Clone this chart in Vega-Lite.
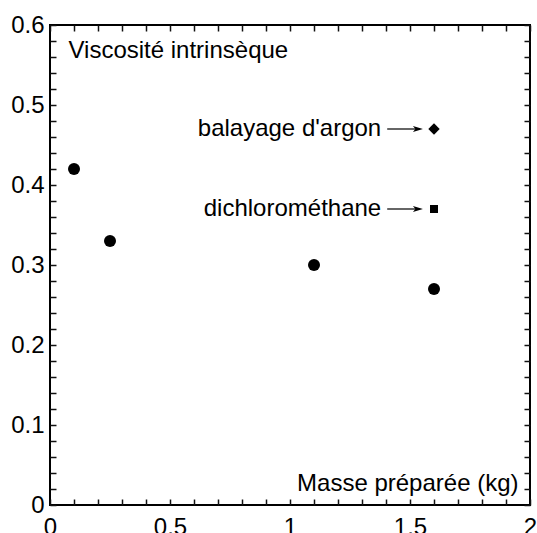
{
  "$schema": "https://vega.github.io/schema/vega-lite/v6.json",
  "width": 480,
  "height": 480,
  "autosize": {"type": "none"},
  "padding": {"left": 50, "top": 25, "right": 7, "bottom": 28},
  "config": {
    "view": {"stroke": "black", "strokeWidth": 2},
    "axis": {
      "domain": false, "grid": false,
      "labelFont": "Liberation Sans", "titleFont": "Liberation Sans",
      "labelFontSize": 24, "titleFontSize": 24, "labelColor": "black", "titleColor": "black",
      "titleFontWeight": "normal", "labelFlush": false, "labelOverlap": false, "labelBound": false
    },
    "text": {"font": "Liberation Sans"}
  },
  "datasets": {
    "cercles": [
      {"masse": 0.1, "visc": 0.42},
      {"masse": 0.25, "visc": 0.33},
      {"masse": 1.1, "visc": 0.30},
      {"masse": 1.6, "visc": 0.27}
    ],
    "argon": [{"masse": 1.6, "visc": 0.47}],
    "dichloro": [{"masse": 1.6, "visc": 0.37}],
    "notes": [
      {"note": "balayage d'argon", "visc": 0.47, "texte": 1.38, "debut": 1.405, "fin": 1.53, "pointe": 1.533},
      {"note": "dichlorométhane", "visc": 0.37, "texte": 1.38, "debut": 1.405, "fin": 1.53, "pointe": 1.533}
    ]
  },
  "layer": [
    {
      "layer": [
        {
          "data": {"name": "cercles"},
          "mark": {"type": "point", "shape": "circle", "filled": true, "size": 144, "color": "black", "opacity": 1},
          "encoding": {
            "x": {"field": "masse", "type": "quantitative", "scale": {"domain": [0, 2], "nice": false, "zero": false},
              "axis": {"orient": "bottom", "values": [0, 0.1, 0.2, 0.3, 0.4, 0.5, 0.6, 0.7, 0.8, 0.9, 1, 1.1, 1.2, 1.3, 1.4, 1.5, 1.6, 1.7, 1.8, 1.9, 2],
                "labelExpr": "abs(datum.value * 2 - round(datum.value * 2)) < 0.001 ? format(datum.value, '~f') : ''",
                "tickColor": "#111111", "tickWidth": 1.5, "tickSize": -6, "labelPadding": 16,
                "title": "Masse préparée (kg)", "titleAngle": 0, "titleX": 468, "titleY": -15, "titleAlign": "right", "titleBaseline": "alphabetic"}},
            "y": {"field": "visc", "type": "quantitative", "scale": {"domain": [0, 0.6], "nice": false, "zero": false},
              "axis": {"orient": "left", "values": [0, 0.02, 0.04, 0.06, 0.08, 0.1, 0.12, 0.14, 0.16, 0.18, 0.2, 0.22, 0.24, 0.26, 0.28, 0.3, 0.32, 0.34, 0.36, 0.38, 0.4, 0.42, 0.44, 0.46, 0.48, 0.5, 0.52, 0.54, 0.56, 0.58, 0.6],
                "labelExpr": "abs(datum.value * 10 - round(datum.value * 10)) < 0.001 ? format(datum.value, '~f') : ''",
                "tickColor": "#111111", "tickWidth": 1.5, "tickSize": -6, "labelPadding": 12,
                "title": "Viscosité intrinsèque", "titleAngle": 0, "titleX": 18, "titleY": 32, "titleAlign": "left", "titleBaseline": "alphabetic"}}
          }
        },
        {
          "data": {"name": "argon"},
          "mark": {"type": "point", "shape": "diamond", "filled": true, "size": 130, "color": "black", "opacity": 1},
          "encoding": {
            "x": {"field": "masse", "type": "quantitative", "scale": {"domain": [0, 2], "nice": false, "zero": false},
              "axis": {"orient": "bottom", "values": [0, 0.1, 0.2, 0.3, 0.4, 0.5, 0.6, 0.7, 0.8, 0.9, 1, 1.1, 1.2, 1.3, 1.4, 1.5, 1.6, 1.7, 1.8, 1.9, 2],
                "labelExpr": "abs(datum.value * 2 - round(datum.value * 2)) < 0.001 ? format(datum.value, '~f') : ''",
                "tickColor": "#111111", "tickWidth": 1.5, "tickSize": -6, "labelPadding": 16,
                "title": "Masse préparée (kg)", "titleAngle": 0, "titleX": 468, "titleY": -15, "titleAlign": "right", "titleBaseline": "alphabetic"}},
            "y": {"field": "visc", "type": "quantitative", "scale": {"domain": [0, 0.6], "nice": false, "zero": false},
              "axis": {"orient": "left", "values": [0, 0.02, 0.04, 0.06, 0.08, 0.1, 0.12, 0.14, 0.16, 0.18, 0.2, 0.22, 0.24, 0.26, 0.28, 0.3, 0.32, 0.34, 0.36, 0.38, 0.4, 0.42, 0.44, 0.46, 0.48, 0.5, 0.52, 0.54, 0.56, 0.58, 0.6],
                "labelExpr": "abs(datum.value * 10 - round(datum.value * 10)) < 0.001 ? format(datum.value, '~f') : ''",
                "tickColor": "#111111", "tickWidth": 1.5, "tickSize": -6, "labelPadding": 12,
                "title": "Viscosité intrinsèque", "titleAngle": 0, "titleX": 18, "titleY": 32, "titleAlign": "left", "titleBaseline": "alphabetic"}}
          }
        },
        {
          "data": {"name": "dichloro"},
          "mark": {"type": "point", "shape": "square", "filled": true, "size": 64, "color": "black", "opacity": 1},
          "encoding": {
            "x": {"field": "masse", "type": "quantitative", "scale": {"domain": [0, 2], "nice": false, "zero": false},
              "axis": {"orient": "bottom", "values": [0, 0.1, 0.2, 0.3, 0.4, 0.5, 0.6, 0.7, 0.8, 0.9, 1, 1.1, 1.2, 1.3, 1.4, 1.5, 1.6, 1.7, 1.8, 1.9, 2],
                "labelExpr": "abs(datum.value * 2 - round(datum.value * 2)) < 0.001 ? format(datum.value, '~f') : ''",
                "tickColor": "#111111", "tickWidth": 1.5, "tickSize": -6, "labelPadding": 16,
                "title": "Masse préparée (kg)", "titleAngle": 0, "titleX": 468, "titleY": -15, "titleAlign": "right", "titleBaseline": "alphabetic"}},
            "y": {"field": "visc", "type": "quantitative", "scale": {"domain": [0, 0.6], "nice": false, "zero": false},
              "axis": {"orient": "left", "values": [0, 0.02, 0.04, 0.06, 0.08, 0.1, 0.12, 0.14, 0.16, 0.18, 0.2, 0.22, 0.24, 0.26, 0.28, 0.3, 0.32, 0.34, 0.36, 0.38, 0.4, 0.42, 0.44, 0.46, 0.48, 0.5, 0.52, 0.54, 0.56, 0.58, 0.6],
                "labelExpr": "abs(datum.value * 10 - round(datum.value * 10)) < 0.001 ? format(datum.value, '~f') : ''",
                "tickColor": "#111111", "tickWidth": 1.5, "tickSize": -6, "labelPadding": 12,
                "title": "Viscosité intrinsèque", "titleAngle": 0, "titleX": 18, "titleY": 32, "titleAlign": "left", "titleBaseline": "alphabetic"}}
          }
        }
      ]
    },
    {
      "layer": [
        {
          "data": {"name": "notes"},
          "mark": {"type": "text", "align": "right", "baseline": "middle", "fontSize": 24, "color": "black"},
          "encoding": {
            "text": {"field": "note"},
            "x": {"field": "texte", "type": "quantitative", "scale": {"domain": [0, 2], "nice": false, "zero": false},
              "axis": {"orient": "top", "values": [0, 0.1, 0.2, 0.3, 0.4, 0.5, 0.6, 0.7, 0.8, 0.9, 1, 1.1, 1.2, 1.3, 1.4, 1.5, 1.6, 1.7, 1.8, 1.9, 2], "labels": false, "tickColor": "#111111", "tickWidth": 1.5, "tickSize": -6, "title": null}},
            "y": {"field": "visc", "type": "quantitative", "scale": {"domain": [0, 0.6], "nice": false, "zero": false},
              "axis": {"orient": "right", "values": [0, 0.02, 0.04, 0.06, 0.08, 0.1, 0.12, 0.14, 0.16, 0.18, 0.2, 0.22, 0.24, 0.26, 0.28, 0.3, 0.32, 0.34, 0.36, 0.38, 0.4, 0.42, 0.44, 0.46, 0.48, 0.5, 0.52, 0.54, 0.56, 0.58, 0.6], "labels": false, "tickColor": "#111111", "tickWidth": 1.5, "tickSize": -6, "title": null}}
          }
        },
        {
          "data": {"name": "notes"},
          "mark": {"type": "rule", "color": "black", "strokeWidth": 1.2},
          "encoding": {
            "x": {"field": "debut", "type": "quantitative", "scale": {"domain": [0, 2], "nice": false, "zero": false},
              "axis": {"orient": "top", "values": [0, 0.1, 0.2, 0.3, 0.4, 0.5, 0.6, 0.7, 0.8, 0.9, 1, 1.1, 1.2, 1.3, 1.4, 1.5, 1.6, 1.7, 1.8, 1.9, 2], "labels": false, "tickColor": "#111111", "tickWidth": 1.5, "tickSize": -6, "title": null}},
            "x2": {"field": "fin"},
            "y": {"field": "visc", "type": "quantitative", "scale": {"domain": [0, 0.6], "nice": false, "zero": false},
              "axis": {"orient": "right", "values": [0, 0.02, 0.04, 0.06, 0.08, 0.1, 0.12, 0.14, 0.16, 0.18, 0.2, 0.22, 0.24, 0.26, 0.28, 0.3, 0.32, 0.34, 0.36, 0.38, 0.4, 0.42, 0.44, 0.46, 0.48, 0.5, 0.52, 0.54, 0.56, 0.58, 0.6], "labels": false, "tickColor": "#111111", "tickWidth": 1.5, "tickSize": -6, "title": null}}
          }
        },
        {
          "data": {"name": "notes"},
          "mark": {"type": "point", "shape": "M1,0L-1,-0.6L-0.5,0L-1,0.6Z", "filled": true, "size": 100, "color": "black", "opacity": 1},
          "encoding": {
            "x": {"field": "pointe", "type": "quantitative", "scale": {"domain": [0, 2], "nice": false, "zero": false},
              "axis": {"orient": "top", "values": [0, 0.1, 0.2, 0.3, 0.4, 0.5, 0.6, 0.7, 0.8, 0.9, 1, 1.1, 1.2, 1.3, 1.4, 1.5, 1.6, 1.7, 1.8, 1.9, 2], "labels": false, "tickColor": "#111111", "tickWidth": 1.5, "tickSize": -6, "title": null}},
            "y": {"field": "visc", "type": "quantitative", "scale": {"domain": [0, 0.6], "nice": false, "zero": false},
              "axis": {"orient": "right", "values": [0, 0.02, 0.04, 0.06, 0.08, 0.1, 0.12, 0.14, 0.16, 0.18, 0.2, 0.22, 0.24, 0.26, 0.28, 0.3, 0.32, 0.34, 0.36, 0.38, 0.4, 0.42, 0.44, 0.46, 0.48, 0.5, 0.52, 0.54, 0.56, 0.58, 0.6], "labels": false, "tickColor": "#111111", "tickWidth": 1.5, "tickSize": -6, "title": null}}
          }
        }
      ]
    }
  ],
  "resolve": {"axis": {"x": "independent", "y": "independent"}}
}
